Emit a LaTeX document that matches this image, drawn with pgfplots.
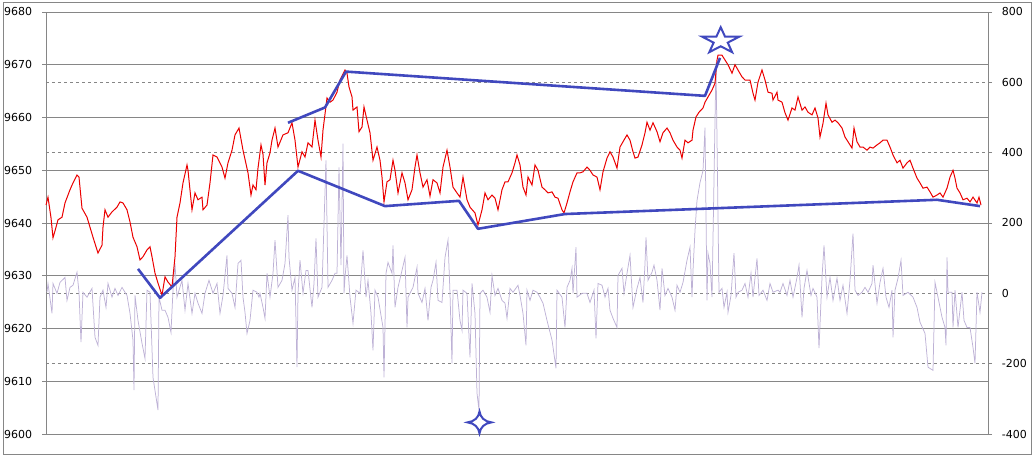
\documentclass[border=0pt]{standalone}
\usepackage{fontspec}
\setmainfont{DejaVu Sans}
\usepackage{pgfplots}
\pgfplotsset{compat=1.18}
\definecolor{gridc}{RGB}{134,134,134}
\definecolor{lav}{RGB}{190,178,214}
\definecolor{pblue}{RGB}{64,72,190}
\definecolor{pred}{RGB}{235,0,0}
\pgfdeclareplotmark{bigstar}{%
  \pgfpathmoveto{\pgfqpoint{0pt}{13.8pt}}%
  \pgfpathlineto{\pgfqpoint{-4.36pt}{4.26pt}}%
  \pgfpathlineto{\pgfqpoint{-18.45pt}{4.26pt}}%
  \pgfpathlineto{\pgfqpoint{-7.05pt}{-1.63pt}}%
  \pgfpathlineto{\pgfqpoint{-11.4pt}{-11.16pt}}%
  \pgfpathlineto{\pgfqpoint{0pt}{-5.27pt}}%
  \pgfpathlineto{\pgfqpoint{11.4pt}{-11.16pt}}%
  \pgfpathlineto{\pgfqpoint{7.05pt}{-1.63pt}}%
  \pgfpathlineto{\pgfqpoint{18.45pt}{4.26pt}}%
  \pgfpathlineto{\pgfqpoint{4.36pt}{4.26pt}}%
  \pgfpathclose\pgfusepathqstroke}
\pgfdeclareplotmark{fourstar}{%
  \pgfpathmoveto{\pgfqpoint{0pt}{11pt}}%
  \pgfpathcurveto{\pgfqpoint{0.8pt}{5pt}}{\pgfqpoint{5pt}{0.8pt}}{\pgfqpoint{12pt}{0pt}}%
  \pgfpathcurveto{\pgfqpoint{5pt}{-0.8pt}}{\pgfqpoint{0.8pt}{-5pt}}{\pgfqpoint{0pt}{-11pt}}%
  \pgfpathcurveto{\pgfqpoint{-0.8pt}{-5pt}}{\pgfqpoint{-5pt}{-0.8pt}}{\pgfqpoint{-12pt}{0pt}}%
  \pgfpathcurveto{\pgfqpoint{-5pt}{0.8pt}}{\pgfqpoint{-0.8pt}{5pt}}{\pgfqpoint{0pt}{11pt}}%
  \pgfpathclose\pgfusepathqstroke}
\begin{document}
\fontsize{11}{13}\selectfont
\begin{tikzpicture}
\useasboundingbox (0,0) rectangle (1036pt,460pt);
\draw[gridc, line width=0.8pt] (3pt,6pt) rectangle (1031pt,458pt);
\pgfplotsset{base/.style={at={(46pt,26pt)}, anchor=south west, scale only axis,
  width=942pt, height=422pt, xmin=46, xmax=988, xtick=\empty,
  /pgf/number format/assume math mode=true, /pgf/number format/1000 sep={},
  tick align=outside, major tick length=4pt, tick style={gridc, line width=0.8pt},
  axis line style={gridc, line width=0.8pt},
  yticklabel style={font=\fontsize{11}{13}\selectfont}}}
% left axis with solid grid
\begin{axis}[base, ymin=9600, ymax=9680, ytick={9600,9610,...,9680},
  axis lines=box, ytick pos=left, ymajorgrids, major grid style={gridc, line width=0.8pt},
  yticklabel style={xshift=-6pt}]
\end{axis}
% right axis with dashed grid and oscillator
\begin{axis}[base, ymin=-400, ymax=800, ytick={-400,-200,...,800},
  axis y line*=right, axis x line=none, ymajorgrids,
  major grid style={gridc, dashed, line width=0.8pt},
  yticklabel style={xshift=6pt}]
\addplot[lav, line width=0.75pt] coordinates {
(47,3)(48,28)(52,-57)(53,28)(57,0)(60,31)(65,45)(67,-20)(70,17)(73,23)(77,60)(79,3)(81,-139)(83,3)(87,-11)(92,14)(95,-125)(98,-148)(100,-11)(103,9)(106,-40)(108,28)(112,-11)(115,14)(118,-6)(122,17)(125,3)(127,-6)(130,-57)(133,-133)(134,-275)(135,-6)(138,-77)(142,-142)(145,-185)(147,9)(150,3)(153,-239)(156,-295)(158,-332)(159,-11)(162,-48)(165,-48)(168,-68)(171,-111)(173,9)(175,85)(177,-11)(182,37)(185,-48)(188,28)(192,-57)(195,0)(198,-28)(202,-57)(205,0)(209,37)(213,0)(217,28)(220,-57)(223,-6)(227,108)(228,14)(232,0)(235,-40)(238,85)(241,94)(243,-11)(245,-54)(247,-114)(250,-77)(253,9)(257,3)(259,-11)(260,0)(263,-40)(265,-71)(267,57)(270,-11)(273,57)(275,151)(278,17)(282,37)(285,85)(288,222)(289,102)(292,9)(295,45)(297,-210)(298,0)(300,94)(303,0)(306,65)(308,65)(312,-40)(314,28)(316,156)(318,-11)(322,17)(326,378)(328,17)(332,37)(335,57)(337,57)(339,358)(341,80)(343,426)(344,0)(345,45)(347,108)(350,-11)(353,-85)(356,9)(360,0)(363,122)(366,-11)(368,37)(371,-57)(373,-162)(375,9)(378,-11)(383,-97)(384,-239)(386,57)(388,88)(392,57)(393,136)(395,-40)(398,17)(402,65)(405,102)(407,-97)(408,-11)(413,17)(417,74)(418,0)(422,-26)(425,14)(428,-77)(431,17)(433,37)(436,88)(438,-20)(442,-26)(445,102)(448,151)(450,0)(452,-199)(453,9)(457,9)(460,-77)(462,-105)(463,9)(467,0)(470,-182)(472,28)(475,-57)(477,-284)(479,-332)(480,0)(483,9)(487,-11)(490,-54)(492,51)(495,-6)(498,14)(502,-20)(505,-28)(507,-71)(510,14)(513,3)(518,23)(520,-6)(523,-57)(526,-148)(527,9)(530,-20)(533,9)(537,3)(540,-11)(543,-28)(547,-77)(552,-133)(556,-213)(557,9)(562,-11)(565,-97)(567,17)(570,37)(572,71)(573,0)(576,131)(577,-11)(582,0)(587,0)(590,-26)(594,9)(596,-128)(598,28)(602,23)(605,-11)(608,14)(610,-48)(613,-71)(617,-97)(618,51)(622,71)(624,0)(627,57)(630,108)(633,-40)(637,14)(640,45)(643,-26)(645,85)(646,159)(648,37)(652,60)(654,80)(657,37)(660,-48)(662,71)(665,-6)(668,14)(672,-11)(675,-48)(677,23)(680,3)(683,31)(687,94)(690,131)(692,-11)(693,65)(695,179)(697,264)(700,315)(703,349)(705,471)(707,-20)(708,114)(710,85)(712,-11)(716,656)(719,3)(722,14)(724,-40)(727,3)(728,-54)(731,-6)(734,114)(736,-11)(738,3)(742,9)(745,28)(748,-11)(751,57)(753,-11)(757,99)(759,-6)(763,9)(767,-20)(770,28)(773,3)(778,9)(780,3)(783,28)(787,-6)(790,37)(793,-11)(797,45)(799,80)(802,-68)(804,14)(807,65)(811,-6)(813,14)(817,-11)(819,-156)(822,45)(824,136)(827,-11)(830,45)(833,-20)(837,43)(840,-20)(843,23)(847,-57)(850,37)(853,170)(855,9)(858,-6)(862,3)(865,17)(868,3)(872,28)(873,80)(877,-28)(880,31)(883,71)(886,-11)(889,-40)(892,9)(893,-125)(895,9)(898,43)(901,94)(903,-6)(908,3)(913,-11)(917,-40)(920,-82)(925,-114)(928,-210)(933,-219)(935,31)(938,-11)(942,-68)(945,-97)(946,-148)(947,102)(948,3)(952,3)(953,-97)(955,9)(958,-97)(962,3)(964,-77)(967,-97)(970,-97)(973,-154)(975,-199)(977,3)(980,-54)(982,3)
};
\end{axis}
% price, trend lines and stars
\begin{axis}[base, ymin=9600, ymax=9680, hide axis, clip=false]
\addplot[pred, line width=1pt] coordinates {
(46,9643.4)(48,9644.9)(51,9641.0)(53,9637.2)(55,9638.5)(58,9640.6)(62,9641.1)(65,9643.8)(70,9646.3)(73,9647.6)(77,9649.1)(79,9648.7)(82,9642.8)(87,9641.1)(90,9639.2)(93,9637.3)(98,9634.3)(102,9635.8)(103,9639.2)(105,9642.5)(108,9641.1)(112,9642.1)(117,9643.0)(120,9644.0)(123,9643.8)(127,9642.5)(130,9640.2)(133,9637.3)(137,9635.5)(140,9633.0)(143,9633.6)(147,9634.9)(150,9635.5)(152,9633.6)(155,9630.5)(158,9628.6)(162,9626.3)(165,9629.8)(168,9628.8)(172,9627.9)(175,9633.6)(177,9641.1)(180,9643.8)(183,9647.6)(187,9651.0)(188,9650.0)(192,9642.5)(195,9645.7)(198,9644.4)(202,9644.9)(203,9642.5)(207,9643.4)(210,9647.6)(213,9652.9)(217,9652.5)(222,9650.6)(225,9648.5)(228,9651.4)(232,9653.8)(235,9656.7)(239,9658.0)(243,9653.8)(248,9649.5)(251,9645.3)(253,9647.2)(256,9646.3)(258,9650.4)(261,9654.8)(263,9653.0)(265,9647.2)(267,9651.4)(270,9653.3)(272,9655.7)(275,9658.0)(278,9654.4)(283,9656.7)(288,9657.1)(292,9659.0)(295,9655.7)(298,9650.6)(302,9653.5)(305,9652.5)(308,9655.2)(312,9654.4)(315,9659.5)(318,9655.7)(321,9652.5)(323,9657.6)(327,9663.7)(330,9662.9)(333,9663.3)(337,9664.8)(340,9667.1)(345,9669.0)(347,9668.4)(349,9665.8)(352,9663.9)(353,9661.4)(357,9662.0)(359,9657.3)(362,9658.2)(364,9662.0)(367,9659.5)(370,9657.1)(373,9651.9)(377,9654.4)(380,9651.9)(382,9648.7)(384,9644.0)(387,9647.8)(390,9648.2)(393,9651.9)(395,9650.0)(398,9645.7)(402,9649.5)(405,9647.6)(408,9644.4)(412,9646.3)(415,9650.6)(417,9652.9)(420,9649.5)(423,9646.8)(427,9648.2)(430,9645.1)(433,9648.2)(437,9647.6)(440,9645.7)(443,9650.6)(447,9653.8)(450,9650.6)(453,9646.8)(457,9645.7)(460,9644.9)(463,9648.7)(467,9644.4)(470,9643.0)(475,9641.9)(478,9639.6)(482,9642.5)(485,9645.7)(488,9644.4)(492,9645.3)(495,9644.7)(498,9642.5)(502,9646.3)(505,9647.8)(508,9647.8)(512,9649.5)(515,9651.4)(517,9652.9)(520,9651.0)(523,9646.8)(526,9645.3)(528,9648.7)(532,9647.2)(535,9651.0)(538,9650.0)(542,9646.8)(545,9646.3)(548,9645.7)(552,9645.9)(555,9644.9)(558,9644.7)(562,9642.5)(564,9641.9)(567,9643.8)(570,9645.9)(573,9647.8)(577,9649.5)(580,9649.5)(583,9649.7)(587,9650.6)(590,9650.0)(593,9649.1)(597,9648.7)(600,9646.3)(603,9649.7)(607,9652.3)(610,9653.5)(613,9652.5)(617,9650.4)(620,9654.4)(623,9655.4)(627,9656.7)(630,9655.7)(633,9653.5)(635,9652.3)(638,9652.5)(642,9654.8)(645,9657.1)(647,9659.1)(650,9657.6)(653,9659.0)(657,9657.3)(660,9655.4)(663,9657.1)(667,9658.0)(670,9657.1)(673,9655.7)(677,9654.4)(680,9653.8)(682,9652.3)(685,9655.7)(688,9655.2)(692,9655.7)(693,9657.6)(696,9660.1)(699,9661.0)(703,9661.8)(705,9662.9)(708,9663.9)(712,9665.2)(715,9666.5)(717,9670.9)(718,9671.8)(722,9671.8)(725,9670.9)(728,9670.0)(732,9668.4)(735,9670.0)(738,9669.0)(742,9667.7)(745,9667.1)(750,9667.1)(753,9664.6)(755,9663.3)(758,9666.7)(762,9669.0)(765,9667.1)(768,9664.8)(772,9664.6)(773,9663.3)(777,9664.8)(778,9663.3)(782,9662.9)(785,9660.9)(788,9659.5)(792,9661.8)(795,9661.4)(798,9663.9)(802,9661.4)(805,9662.0)(808,9661.0)(812,9660.5)(815,9661.8)(818,9659.9)(820,9656.3)(823,9658.9)(826,9662.7)(828,9660.5)(832,9659.1)(835,9659.5)(838,9659.0)(842,9658.0)(845,9656.3)(848,9655.4)(852,9654.2)(854,9658.0)(857,9655.4)(860,9654.4)(863,9654.4)(867,9653.8)(870,9654.4)(873,9654.2)(877,9654.8)(880,9655.2)(883,9655.7)(887,9655.7)(890,9654.4)(893,9652.9)(897,9651.4)(900,9651.9)(903,9650.4)(907,9651.4)(910,9651.9)(913,9650.4)(917,9648.5)(920,9647.6)(923,9646.6)(927,9646.8)(930,9645.9)(933,9644.9)(937,9645.3)(940,9645.7)(943,9644.9)(947,9646.6)(950,9648.7)(953,9650.0)(955,9648.5)(957,9646.6)(960,9645.7)(963,9644.4)(967,9644.7)(970,9644.0)(973,9644.9)(977,9643.8)(979,9644.9)(981,9643.4)
};
\addplot[pblue, line width=2.6pt, line join=round] coordinates {
(138,9631.3)(160,9625.8)(298,9649.9)(385,9643.2)(459,9644.2)(478,9638.9)(565,9641.7)(937,9644.4)(980,9643.2)};
\addplot[pblue, line width=2.6pt, line join=round] coordinates {
(288,9659.0)(325,9661.9)(346,9668.7)(705,9664.1)(720,9671.3)};
\addplot[pblue, only marks, mark=bigstar, mark options={line width=2pt, line join=miter}] coordinates {(720.7,9674.5)};
\addplot[pblue, only marks, mark=fourstar, mark options={line width=2pt, line join=miter}] coordinates {(479.5,9602.2)};
\end{axis}
\end{tikzpicture}
\end{document}
